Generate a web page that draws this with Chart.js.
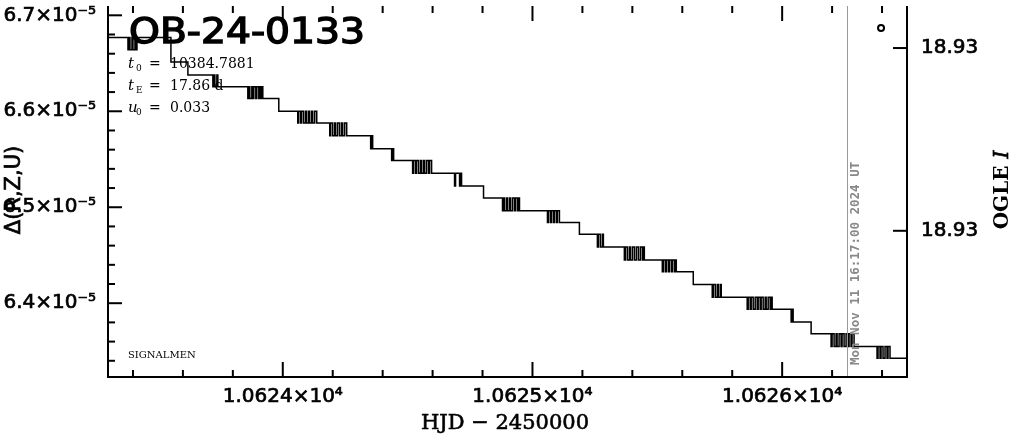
<!DOCTYPE html>
<html>
<head>
<meta charset="utf-8">
<script src="https://cdn.jsdelivr.net/npm/chart.js@4.4.1/dist/chart.umd.min.js"></script>
<style>
  html, body { margin: 0; padding: 0; background: #fff; }
  #wrap { width: 1011px; height: 434px; }
</style>
</head>
<body>
<div id="wrap"><canvas id="lc" width="1011" height="434"></canvas></div>
<script>
// light curve of OB-24-0133, flux difference in units of 1e-5
const hjd = [
  10623.27, 10623.380, 10623.384, 10623.388, 10623.396, 10623.400, 10623.408, 10623.412, 10623.416,
  10623.552, 10623.620,
  10623.720, 10623.724, 10623.728, 10623.736, 10623.740,
  10623.860, 10623.864, 10623.868, 10623.876, 10623.880, 10623.884, 10623.892, 10623.896, 10623.904, 10623.908, 10623.912, 10623.916, 10623.920,
  10623.984,
  10624.060, 10624.064, 10624.072, 10624.076, 10624.084, 10624.092, 10624.096, 10624.104, 10624.108, 10624.116, 10624.120, 10624.128, 10624.136,
  10624.188, 10624.192, 10624.200, 10624.208, 10624.212, 10624.220, 10624.228, 10624.236, 10624.240, 10624.248, 10624.256,
  10624.352, 10624.356, 10624.360,
  10624.436, 10624.440, 10624.444,
  10624.520, 10624.524, 10624.532, 10624.536, 10624.544, 10624.552, 10624.556, 10624.564, 10624.568, 10624.576, 10624.584, 10624.588, 10624.596,
  10624.688, 10624.692, 10624.708, 10624.712, 10624.716,
  10624.804,
  10624.880, 10624.884, 10624.888, 10624.896, 10624.900, 10624.908, 10624.912, 10624.920, 10624.928, 10624.932, 10624.940, 10624.944, 10624.948,
  10625.060, 10625.064, 10625.072, 10625.076, 10625.084, 10625.088, 10625.096, 10625.100, 10625.108,
  10625.188,
  10625.260, 10625.264, 10625.272, 10625.280, 10625.284,
  10625.368, 10625.372, 10625.380, 10625.388, 10625.392, 10625.400, 10625.408, 10625.416, 10625.424, 10625.432, 10625.440, 10625.444, 10625.448,
  10625.520, 10625.524, 10625.532, 10625.536, 10625.544, 10625.548, 10625.556, 10625.560, 10625.568, 10625.572, 10625.576,
  10625.644,
  10625.720, 10625.724, 10625.732, 10625.740, 10625.744, 10625.752, 10625.756,
  10625.860, 10625.864, 10625.872, 10625.876, 10625.884, 10625.892, 10625.900, 10625.904, 10625.912, 10625.916, 10625.924, 10625.932, 10625.936, 10625.944, 10625.952, 10625.956, 10625.960,
  10626.036, 10626.040, 10626.044,
  10626.116,
  10626.196, 10626.200, 10626.208, 10626.216, 10626.220, 10626.228, 10626.236, 10626.240, 10626.248, 10626.256, 10626.264, 10626.268, 10626.276, 10626.280, 10626.288,
  10626.380, 10626.384, 10626.392, 10626.396, 10626.404, 10626.412, 10626.420, 10626.424, 10626.432,
  10626.52
];
const dFlux = [
  6.6769, 6.6641, 6.6769, 6.6641, 6.6769, 6.6641, 6.6769, 6.6641, 6.6769,
  6.6513, 6.6379,
  6.6256, 6.6379, 6.6256, 6.6379, 6.6256,
  6.6133, 6.6256, 6.6133, 6.6256, 6.6133, 6.6256, 6.6133, 6.6256, 6.6133, 6.6256, 6.6133, 6.6256, 6.6133,
  6.6000,
  6.5877, 6.6000, 6.5877, 6.6000, 6.5877, 6.6000, 6.5877, 6.6000, 6.5877, 6.6000, 6.5877, 6.6000, 6.5877,
  6.5744, 6.5877, 6.5744, 6.5877, 6.5744, 6.5877, 6.5744, 6.5877, 6.5744, 6.5877, 6.5744,
  6.5610, 6.5744, 6.5610,
  6.5487, 6.5610, 6.5487,
  6.5354, 6.5487, 6.5354, 6.5487, 6.5354, 6.5487, 6.5354, 6.5487, 6.5354, 6.5487, 6.5354, 6.5487, 6.5354,
  6.5221, 6.5354, 6.5221, 6.5354, 6.5221,
  6.5097,
  6.4964, 6.5097, 6.4964, 6.5097, 6.4964, 6.5097, 6.4964, 6.5097, 6.4964, 6.5097, 6.4964, 6.5097, 6.4964,
  6.4841, 6.4964, 6.4841, 6.4964, 6.4841, 6.4964, 6.4841, 6.4964, 6.4841,
  6.4718,
  6.4585, 6.4718, 6.4585, 6.4718, 6.4585,
  6.4451, 6.4585, 6.4451, 6.4585, 6.4451, 6.4585, 6.4451, 6.4585, 6.4451, 6.4585, 6.4451, 6.4585, 6.4451,
  6.4328, 6.4451, 6.4328, 6.4451, 6.4328, 6.4451, 6.4328, 6.4451, 6.4328, 6.4451, 6.4328,
  6.4195,
  6.4062, 6.4195, 6.4062, 6.4195, 6.4062, 6.4195, 6.4062,
  6.3938, 6.4062, 6.3938, 6.4062, 6.3938, 6.4062, 6.3938, 6.4062, 6.3938, 6.4062, 6.3938, 6.4062, 6.3938, 6.4062, 6.3938, 6.4062, 6.3938,
  6.3805, 6.3938, 6.3805,
  6.3682,
  6.3549, 6.3682, 6.3549, 6.3682, 6.3549, 6.3682, 6.3549, 6.3682, 6.3549, 6.3682, 6.3549, 6.3682, 6.3549, 6.3682, 6.3549,
  6.3426, 6.3549, 6.3426, 6.3549, 6.3426, 6.3549, 6.3426, 6.3549, 6.3426,
  6.3426
];

// OGLE I point (right axis)
const ogleHJD = [10626.396];
const ogleMag = [18.92889];

// tick values
const xTicks = [10624, 10625, 10626];
const yTicks = [6.4, 6.5, 6.6, 6.7];
const magTicks = [18.929, 18.930];

// labels
const eventName = "OB-24-0133";
const params = [["t", "0", "10384.7881"], ["t", "E", "17.86 d"], ["u", "0", "0.033"]];
const nowHJD = 10626.26;
const nowLabel = "Mon Nov 11 16:17:00 2024 UT";

const lcData = hjd.map((t, i) => ({ x: t, y: dFlux[i] }));
const ogleData = ogleHJD.map((t, i) => ({ x: t, y: ogleMag[i] }));

//fill + light stroke so the text gets the heavier look of the original
function heavyText(ctx, txt, x, y, w) {
  ctx.lineWidth = w;
  ctx.strokeText(txt, x, y);
  ctx.fillText(txt, x, y);
}

/**
 * Frame, inward ticks and all the texts
 */
const framePlugin = {
  id: "frame",
  afterDraw(chart) {
    const { ctx, chartArea: a, scales } = chart;
    const xs = scales.x, ys = scales.y, ms = scales.mag;
    ctx.save();
    ctx.strokeStyle = "#000";
    ctx.fillStyle = "#000";

    //now marker
    const nx = Math.round(xs.getPixelForValue(nowHJD)) + 0.5;
    ctx.strokeStyle = "#999";
    ctx.lineWidth = 1;
    ctx.beginPath();
    ctx.moveTo(nx, a.top);
    ctx.lineTo(nx, a.bottom);
    ctx.stroke();
    ctx.save();
    ctx.translate(nx + 8, a.bottom - 12);
    ctx.rotate(-Math.PI / 2);
    ctx.fillStyle = "#888";
    ctx.font = "bold 12.5px 'DejaVu Sans Mono'";
    ctx.textAlign = "left";
    ctx.textBaseline = "middle";
    ctx.fillText(nowLabel, 0, 0);
    ctx.restore();

    //frame
    ctx.strokeStyle = "#000";
    ctx.lineWidth = 2;
    ctx.beginPath();
    ctx.moveTo(a.left, a.top);
    ctx.lineTo(a.left, a.bottom);
    ctx.lineTo(a.right, a.bottom);
    ctx.lineTo(a.right, a.top);
    ctx.stroke();

    //x ticks bottom + top
    for (let i = Math.ceil(xs.min * 5); i <= Math.floor(xs.max * 5); i++) {
      const px = xs.getPixelForValue(i / 5);
      const len = i % 5 === 0 ? 15 : 7;
      ctx.beginPath();
      ctx.moveTo(px, a.bottom);
      ctx.lineTo(px, a.bottom - len);
      ctx.moveTo(px, a.top);
      ctx.lineTo(px, a.top + len);
      ctx.stroke();
    }
    //y ticks left
    for (let i = Math.ceil(ys.min * 50); i <= Math.floor(ys.max * 50); i++) {
      const py = ys.getPixelForValue(i / 50);
      const len = i % 5 === 0 ? 14 : 7;
      ctx.beginPath();
      ctx.moveTo(a.left, py);
      ctx.lineTo(a.left + len, py);
      ctx.stroke();
    }
    //right mag ticks
    magTicks.forEach((v) => {
      const py = ms.getPixelForValue(v);
      ctx.beginPath();
      ctx.moveTo(a.right, py);
      ctx.lineTo(a.right - 14, py);
      ctx.stroke();
    });

    //tick labels
    ctx.font = "20px 'DejaVu Sans'";
    ctx.textBaseline = "middle";
    ctx.textAlign = "center";
    xTicks.forEach((v) => {
      heavyText(ctx, (v / 1e4).toFixed(4) + "×10⁴", xs.getPixelForValue(v), 397, 0.7);
    });
    ctx.textAlign = "right";
    yTicks.forEach((v) => {
      heavyText(ctx, v.toFixed(1) + "×10⁻⁵", 96, ys.getPixelForValue(v), 0.7);
    });
    ctx.textAlign = "left";
    magTicks.forEach((v) => {
      heavyText(ctx, v.toFixed(2), 921, ms.getPixelForValue(v), 0.7);
    });

    //axis titles
    ctx.font = "21px 'DejaVu Serif'";
    ctx.textAlign = "center";
    heavyText(ctx, "HJD − 2450000", 505, 424, 0.6);

    ctx.save();
    ctx.translate(15, 190);
    ctx.rotate(-Math.PI / 2);
    ctx.font = "21px 'DejaVu Sans'";
    heavyText(ctx, "Δ(R,Z,U)", 0, 0, 0.7);
    ctx.restore();

    ctx.save();
    ctx.translate(1003, 190);
    ctx.rotate(-Math.PI / 2);
    ctx.font = "bold 20px 'DejaVu Serif'";
    const w1 = ctx.measureText("OGLE ").width;
    ctx.font = "italic 20px 'DejaVu Serif'";
    const w2 = ctx.measureText("I").width;
    ctx.textAlign = "left";
    ctx.font = "bold 20px 'DejaVu Serif'";
    ctx.fillText("OGLE ", -(w1 + w2) / 2, 0);
    ctx.font = "italic 20px 'DejaVu Serif'";
    heavyText(ctx, "I", -(w1 + w2) / 2 + w1, 0, 0.7);
    ctx.restore();

    //event name
    ctx.save();
    ctx.font = "35px 'DejaVu Sans'";
    ctx.textAlign = "left";
    ctx.textBaseline = "alphabetic";
    const tw = ctx.measureText(eventName).width;
    ctx.translate(129, 43);
    ctx.scale(236 / tw, 1);
    heavyText(ctx, eventName, 0, 0, 1.4);
    ctx.restore();

    //fit parameters
    ctx.textAlign = "left";
    ctx.textBaseline = "alphabetic";
    params.forEach((p, i) => {
      const by = 68 + i * 22;
      ctx.font = "italic 15px 'DejaVu Serif'";
      ctx.fillText(p[0], 128, by);
      ctx.font = "9px 'DejaVu Serif'";
      ctx.fillText(p[1], 136, by + 3);
      ctx.font = "14px 'DejaVu Serif'";
      ctx.fillText("=", 149, by);
      ctx.fillText(p[2], 170, by);
    });

    ctx.font = "10px 'DejaVu Serif'";
    ctx.fillText("SIGNALMEN", 128, 358);

    ctx.restore();
  }
};

const chart = new Chart(document.getElementById("lc"), {
  type: "line",
  data: {
    datasets: [
      {
        label: "dflux",
        data: lcData,
        xAxisID: "x",
        yAxisID: "y",
        stepped: true,
        borderColor: "#000",
        borderWidth: 1.5,
        pointRadius: 0,
        fill: false
      },
      {
        label: "OGLE I",
        type: "scatter",
        data: ogleData,
        xAxisID: "x",
        yAxisID: "mag",
        pointStyle: "circle",
        pointRadius: 3,
        borderWidth: 2,
        borderColor: "#000",
        backgroundColor: "#fff"
      }
    ]
  },
  options: {
    responsive: false,
    devicePixelRatio: 1,
    animation: false,
    layout: { padding: { left: 108, right: 104, top: 0, bottom: 57 } },
    plugins: { legend: { display: false }, tooltip: { enabled: false } },
    scales: {
      x: { type: "linear", min: 10623.3, max: 10626.5, display: false },
      y: { type: "linear", min: 6.3231, max: 6.7097, display: false },
      mag: { type: "linear", position: "right", reverse: true, min: 18.92877, max: 18.93080, display: false }
    }
  },
  plugins: [framePlugin]
});
</script>
</body>
</html>
